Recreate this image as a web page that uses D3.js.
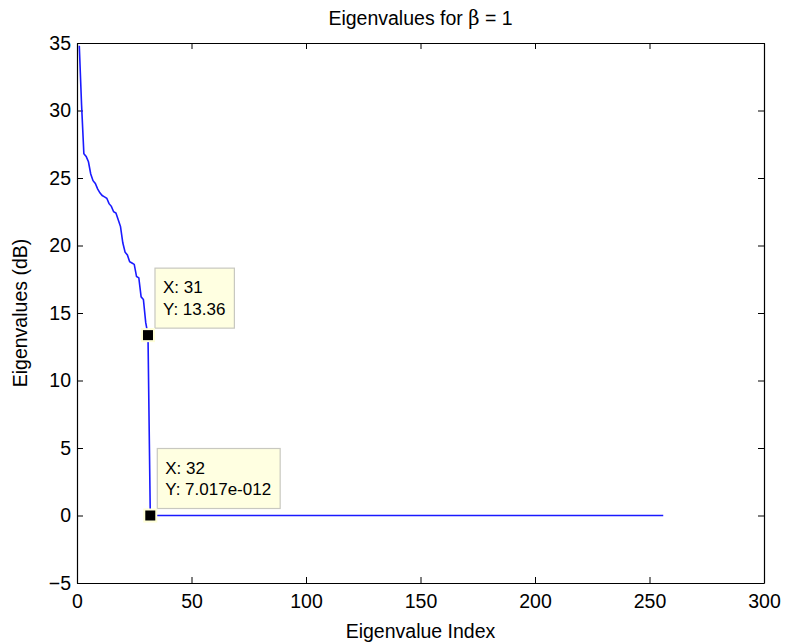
<!DOCTYPE html>
<html>
<head>
<meta charset="utf-8">
<script src="https://cdn.jsdelivr.net/npm/d3@7"></script>
<style>
  html, body { margin: 0; padding: 0; background: #fff; }
  svg { display: block; }
  text { font-family: "Liberation Sans", Arial, Helvetica, sans-serif; fill: #000; }
</style>
</head>
<body>
<svg id="chart" width="786" height="643"></svg>
<script>
// Eigenvalue spectrum (dB) for beta = 1
const eigIndex = [1, 2, 3, 4, 5, 6, 7, 8, 9, 10, 11, 12, 13, 14, 15, 16,
                  17, 18, 19, 20, 21, 22, 23, 24, 25, 26, 27, 28, 29, 30, 31, 32, 256];
const eigValue = [34.8, 30.4, 26.8, 26.6, 26.2, 25.3, 24.8, 24.6, 24.2, 23.9, 23.7,
                  23.6, 23.5, 23.1, 22.9, 22.5, 22.4, 21.9, 21.4, 20.2, 19.5, 19.3,
                  18.8, 18.7, 18.6, 17.7, 17.6, 16.2, 16.0, 14.3, 13.36, 7.017e-12, 0];

const xTicks = [0, 50, 100, 150, 200, 250, 300];
const yTicks = [-5, 0, 5, 10, 15, 20, 25, 30, 35];

// Data tips shown on the curve
const tipIndex = [31, 32];
const tipValue = [13.36, 7.017e-12];
const tipText = [["X: 31", "Y: 13.36"], ["X: 32", "Y: 7.017e-012"]];

const plot = { left: 77, right: 764, top: 43, bottom: 583 };
const svg = d3.select("#chart");

const x = d3.scaleLinear().domain([0, 300]).range([plot.left, plot.right]);
const y = d3.scaleLinear().domain([-5, 35]).range([plot.bottom, plot.top]);

// Axes box with inward ticks on all four sides
const tickLen = 6;
const axisFont = "19.5px";

const bottomAxis = d3.axisBottom(x).tickValues(xTicks).tickSizeInner(-tickLen).tickSizeOuter(0).tickPadding(11);
const topAxis = d3.axisTop(x).tickValues(xTicks).tickSizeInner(-tickLen).tickSizeOuter(0).tickFormat("");
const leftAxis = d3.axisLeft(y).tickValues(yTicks).tickSizeInner(-tickLen).tickSizeOuter(0).tickPadding(6);
const rightAxis = d3.axisRight(y).tickValues(yTicks).tickSizeInner(-tickLen).tickSizeOuter(0).tickFormat("");

function styleAxis(g) {
  g.select(".domain").attr("stroke", "#000").attr("stroke-width", 1.2);
  g.selectAll(".tick line").attr("stroke", "#000").attr("stroke-width", 1);
  g.selectAll(".tick text").attr("font-size", axisFont)
    .attr("font-family", "'Liberation Sans', Arial, sans-serif").attr("fill", "#000");
}

svg.append("g").attr("transform", `translate(0,${plot.bottom})`).call(bottomAxis).call(styleAxis);
svg.append("g").attr("transform", `translate(0,${plot.top})`).call(topAxis).call(styleAxis);
svg.append("g").attr("transform", `translate(${plot.left},0)`).call(leftAxis).call(styleAxis);
svg.append("g").attr("transform", `translate(${plot.right},0)`).call(rightAxis).call(styleAxis);

// Eigenvalue curve
const pts = eigIndex.map((d, i) => [d, eigValue[i]]);
const line = d3.line().x(d => x(d[0])).y(d => y(d[1]));
svg.append("path")
  .datum(pts)
  .attr("d", line)
  .attr("fill", "none")
  .attr("stroke", "#1a1aff")
  .attr("stroke-width", 1.6);

// Data tips: marker plus label box
const tipFont = 17;
tipIndex.forEach((idx, i) => {
  const px = x(idx), py = y(tipValue[i]);
  const g = svg.append("g");
  const bx = px + 7, by = py - 67;
  const box = g.append("rect")
    .attr("x", bx).attr("y", by).attr("height", 60)
    .attr("fill", "#ffffe1").attr("stroke", "#c8c8c0").attr("stroke-width", 1.2);
  let maxW = 0;
  tipText[i].forEach((t, j) => {
    const tx = g.append("text")
      .attr("x", bx + 8).attr("y", by + 25 + j * 21.5)
      .attr("font-size", tipFont + "px")
      .text(t);
    maxW = Math.max(maxW, tx.node().getComputedTextLength());
  });
  box.attr("width", maxW + 17);
  // marker with pale halo
  g.append("rect")
    .attr("x", px - 7).attr("y", py - 7).attr("width", 14).attr("height", 14)
    .attr("fill", "#ffffd8");
  g.append("rect")
    .attr("x", px - 5).attr("y", py - 5).attr("width", 10).attr("height", 10)
    .attr("fill", "#000");
});

// Titles
const cx = (plot.left + plot.right) / 2;
const title = svg.append("text")
  .attr("x", cx).attr("y", 25)
  .attr("text-anchor", "middle")
  .attr("font-size", "19.5px");
title.append("tspan").text("Eigenvalues for ");
title.append("tspan").attr("font-family", "'DejaVu Serif', 'Liberation Serif', serif").text("β");
title.append("tspan").text(" = 1");

svg.append("text")
  .attr("x", cx).attr("y", 638)
  .attr("text-anchor", "middle")
  .attr("font-size", "19.5px")
  .text("Eigenvalue Index");

svg.append("text")
  .attr("transform", `translate(27,${(plot.top + plot.bottom) / 2}) rotate(-90)`)
  .attr("text-anchor", "middle")
  .attr("font-size", "19.5px")
  .text("Eigenvalues (dB)");
</script>
</body>
</html>
